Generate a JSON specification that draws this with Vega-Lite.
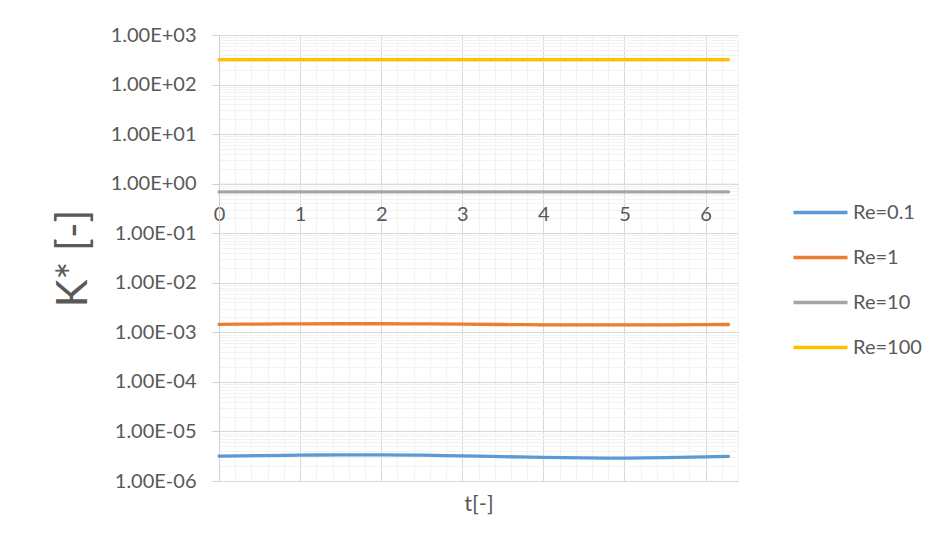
{
  "$schema": "https://vega.github.io/schema/vega-lite/v6.json",
  "autosize": "none",
  "width": 519,
  "height": 446,
  "padding": {"left": 219, "top": 35, "right": 203, "bottom": 67},
  "background": "white",
  "config": {
    "font": "Lato",
    "view": {"stroke": null},
    "axis": {"labelColor": "#595959", "titleColor": "#595959", "labelFont": "Lato", "titleFont": "Lato", "titleFontWeight": "normal"},
    "legend": {"labelFont": "Lato", "labelColor": "#595959"}
  },
  "data": {
    "values": [
      {"t": 0.0, "K": 3.18e-6, "series": "Re=0.1"},
      {"t": 0.5, "K": 3.25e-6, "series": "Re=0.1"},
      {"t": 1.0, "K": 3.32e-6, "series": "Re=0.1"},
      {"t": 1.5, "K": 3.37e-6, "series": "Re=0.1"},
      {"t": 2.0, "K": 3.37e-6, "series": "Re=0.1"},
      {"t": 2.5, "K": 3.32e-6, "series": "Re=0.1"},
      {"t": 3.0, "K": 3.22e-6, "series": "Re=0.1"},
      {"t": 3.5, "K": 3.10e-6, "series": "Re=0.1"},
      {"t": 4.0, "K": 3.00e-6, "series": "Re=0.1"},
      {"t": 4.5, "K": 2.92e-6, "series": "Re=0.1"},
      {"t": 5.0, "K": 2.90e-6, "series": "Re=0.1"},
      {"t": 5.5, "K": 2.95e-6, "series": "Re=0.1"},
      {"t": 6.0, "K": 3.08e-6, "series": "Re=0.1"},
      {"t": 6.283, "K": 3.15e-6, "series": "Re=0.1"},

      {"t": 0.0, "K": 1.45e-3, "series": "Re=1"},
      {"t": 0.5, "K": 1.47e-3, "series": "Re=1"},
      {"t": 1.0, "K": 1.48e-3, "series": "Re=1"},
      {"t": 1.5, "K": 1.49e-3, "series": "Re=1"},
      {"t": 2.0, "K": 1.49e-3, "series": "Re=1"},
      {"t": 2.5, "K": 1.48e-3, "series": "Re=1"},
      {"t": 3.0, "K": 1.46e-3, "series": "Re=1"},
      {"t": 3.5, "K": 1.44e-3, "series": "Re=1"},
      {"t": 4.0, "K": 1.42e-3, "series": "Re=1"},
      {"t": 4.5, "K": 1.41e-3, "series": "Re=1"},
      {"t": 5.0, "K": 1.41e-3, "series": "Re=1"},
      {"t": 5.5, "K": 1.415e-3, "series": "Re=1"},
      {"t": 6.0, "K": 1.43e-3, "series": "Re=1"},
      {"t": 6.283, "K": 1.44e-3, "series": "Re=1"},

      {"t": 0.0, "K": 0.68, "series": "Re=10"},
      {"t": 0.5, "K": 0.68, "series": "Re=10"},
      {"t": 1.0, "K": 0.68, "series": "Re=10"},
      {"t": 1.5, "K": 0.68, "series": "Re=10"},
      {"t": 2.0, "K": 0.68, "series": "Re=10"},
      {"t": 2.5, "K": 0.68, "series": "Re=10"},
      {"t": 3.0, "K": 0.68, "series": "Re=10"},
      {"t": 3.5, "K": 0.68, "series": "Re=10"},
      {"t": 4.0, "K": 0.68, "series": "Re=10"},
      {"t": 4.5, "K": 0.68, "series": "Re=10"},
      {"t": 5.0, "K": 0.68, "series": "Re=10"},
      {"t": 5.5, "K": 0.68, "series": "Re=10"},
      {"t": 6.0, "K": 0.68, "series": "Re=10"},
      {"t": 6.283, "K": 0.68, "series": "Re=10"},

      {"t": 0.0, "K": 318, "series": "Re=100"},
      {"t": 0.5, "K": 318, "series": "Re=100"},
      {"t": 1.0, "K": 318, "series": "Re=100"},
      {"t": 1.5, "K": 318, "series": "Re=100"},
      {"t": 2.0, "K": 318, "series": "Re=100"},
      {"t": 2.5, "K": 318, "series": "Re=100"},
      {"t": 3.0, "K": 318, "series": "Re=100"},
      {"t": 3.5, "K": 318, "series": "Re=100"},
      {"t": 4.0, "K": 318, "series": "Re=100"},
      {"t": 4.5, "K": 318, "series": "Re=100"},
      {"t": 5.0, "K": 318, "series": "Re=100"},
      {"t": 5.5, "K": 318, "series": "Re=100"},
      {"t": 6.0, "K": 318, "series": "Re=100"},
      {"t": 6.283, "K": 318, "series": "Re=100"}
    ]
  },
  "mark": {"type": "line", "strokeWidth": 3.3, "strokeCap": "round", "interpolate": "monotone"},
  "encoding": {
    "x": {
      "field": "t",
      "type": "quantitative",
      "scale": {"domain": [0, 6.4], "nice": false, "zero": false},
      "axis": {
        "title": "t[-]",
        "titleFontSize": 22,
        "titleBaseline": "middle",
        "titleY": 320,
        "offset": -297.33,
        "values": [0, 0.2, 0.4, 0.6, 0.8, 1, 1.2, 1.4, 1.6, 1.8, 2, 2.2, 2.4, 2.6, 2.8, 3, 3.2, 3.4, 3.6, 3.8, 4, 4.2, 4.4, 4.6, 4.8, 5, 5.2, 5.4, 5.6, 5.8, 6, 6.2, 6.4],
        "labelExpr": "abs(datum.value - round(datum.value)) < 1e-6 ? '' + round(datum.value) : ''",
        "labelOverlap": false,
        "labelFontSize": 20,
        "labelBaseline": "middle",
        "labelPadding": 31,
        "labelFlush": false,
        "ticks": false,
        "tickSize": 0,
        "domain": true,
        "domainColor": "#d9d9d9",
        "grid": true,
        "gridColor": {"condition": {"test": "abs(datum.value - round(datum.value)) < 1e-6", "value": "#d9d9d9"}, "value": "#f2f2f2"}
      }
    },
    "y": {
      "field": "K",
      "type": "quantitative",
      "scale": {"type": "log", "domain": [1e-6, 1000], "nice": false},
      "axis": {
        "title": "K* [-]",
        "titleFontSize": 42,
        "titleAngle": -90,
        "titleAlign": "center",
        "titleBaseline": "middle",
        "titleX": -146,
        "titleY": 223,
        "values": [1e-6, 2e-6, 3e-6, 4e-6, 5e-6, 6e-6, 7e-6, 8e-6, 9e-6,
                   1e-5, 2e-5, 3e-5, 4e-5, 5e-5, 6e-5, 7e-5, 8e-5, 9e-5,
                   1e-4, 2e-4, 3e-4, 4e-4, 5e-4, 6e-4, 7e-4, 8e-4, 9e-4,
                   0.001, 0.002, 0.003, 0.004, 0.005, 0.006, 0.007, 0.008, 0.009,
                   0.01, 0.02, 0.03, 0.04, 0.05, 0.06, 0.07, 0.08, 0.09,
                   0.1, 0.2, 0.3, 0.4, 0.5, 0.6, 0.7, 0.8, 0.9,
                   1, 2, 3, 4, 5, 6, 7, 8, 9,
                   10, 20, 30, 40, 50, 60, 70, 80, 90,
                   100, 200, 300, 400, 500, 600, 700, 800, 900,
                   1000],
        "labelExpr": "abs(log(datum.value)/LN10 - round(log(datum.value)/LN10)) < 1e-6 ? '1.00E' + (round(log(datum.value)/LN10) < 0 ? '-' : '+') + '0' + abs(round(log(datum.value)/LN10)) : ''",
        "labelOverlap": false,
        "labelFontSize": 20,
        "labelPadding": 16,
        "labelFlush": false,
        "ticks": true,
        "tickSize": 7,
        "tickColor": "#d0d0d0",
        "tickOpacity": {"condition": {"test": "abs(log(datum.value)/LN10 - round(log(datum.value)/LN10)) < 1e-6", "value": 1}, "value": 0},
        "domain": true,
        "domainColor": "#d0d0d0",
        "grid": true,
        "gridColor": {"condition": {"test": "abs(log(datum.value)/LN10 - round(log(datum.value)/LN10)) < 1e-6", "value": "#d9d9d9"}, "value": "#f2f2f2"}
      }
    },
    "color": {
      "field": "series",
      "type": "nominal",
      "scale": {"domain": ["Re=0.1", "Re=1", "Re=10", "Re=100"], "range": ["#5B9BD5", "#ED7D31", "#A5A5A5", "#FFC000"]},
      "legend": {
        "title": null,
        "orient": "none",
        "legendX": 586,
        "legendY": 162,
        "symbolType": "M-2,0H2",
        "symbolSize": 729,
        "symbolStrokeWidth": 3.3,
        "labelFontSize": 20,
        "labelOffset": 17,
        "rowPadding": 19
      }
    }
  }
}
